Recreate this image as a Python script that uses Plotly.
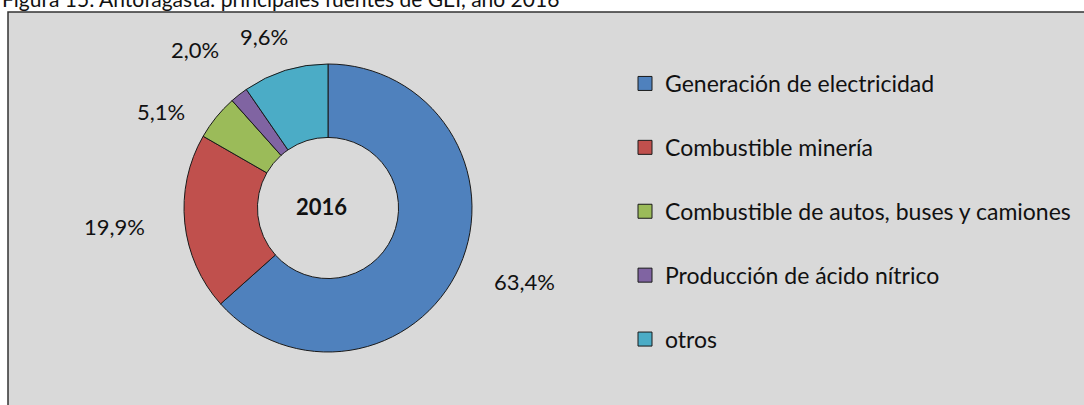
import math
import plotly.graph_objects as go

categories = ["Generación de electricidad", "Combustible minería",
              "Combustible de autos, buses y camiones",
              "Producción de ácido nítrico", "otros"]
values = [63.4, 19.9, 5.1, 2.0, 9.6]
colors = ["#4f81bd", "#c0504d", "#9bbb59", "#8064a2", "#4bacc6"]
center_label = "2016"
title_text = "Figura 15: Antofagasta: principales fuentes de GEI, año 2016"

W, H = 1084, 405
FONT = "Lato"

# pie geometry (pixels)
cx, cy, r = 328, 208, 144
dom_x = [(cx - r) / W, (cx + r) / W]
dom_y = [(H - cy - r) / H, (H - cy + r) / H]

fig = go.Figure()
fig.add_trace(go.Pie(
    labels=categories, values=values, sort=False, direction="clockwise",
    rotation=0, hole=0.49, textinfo="none", hoverinfo="label+percent",
    marker=dict(colors=colors, line=dict(color="#1a1a1a", width=1)),
    domain=dict(x=dom_x, y=dom_y), showlegend=False,
))

# legend via dummy traces (for spacing)
for i, (cat, col) in enumerate(zip(categories, colors)):
    fig.add_trace(go.Scatter(
        x=[None], y=[None], mode="markers", name=cat, legendgroup=f"g{i}",
        marker=dict(symbol="square", size=14, color=col,
                    line=dict(color="#1a1a1a", width=1)),
    ))

# outside labels computed from slice mid-angles (elliptical label ring)
total = sum(values)
cum = 0.0
Rx_lab, Ry_lab = 215, 180
pos = []
for v in values:
    mid = (cum + v / 2) / total * 2 * math.pi
    cum += v
    pos.append([cx + Rx_lab * math.sin(mid), cy - Ry_lab * math.cos(mid)])

# simple de-crowding: spread adjacent labels whose boxes would crowd
MIN_DY, MIN_DX = 62, 55
for i in range(len(pos) - 1):
    a, b = pos[i], pos[i + 1]
    if abs(a[0] - b[0]) < MIN_DX and abs(a[1] - b[1]) < MIN_DY:
        m = (a[1] + b[1]) / 2
        s = 1 if a[1] > b[1] else -1
        a[1] = m + s * MIN_DY / 2
        b[1] = m - s * MIN_DY / 2

annotations = []
for v, (px, py) in zip(values, pos):
    annotations.append(dict(
        x=px / W, y=(H - py) / H, xref="paper", yref="paper",
        text=f"{v:.1f}".replace(".", ",") + "%", showarrow=False,
        font=dict(family=FONT, size=22, color="#111"),
        xanchor="center", yanchor="middle"))

annotations.append(dict(
    x=(cx - 6) / W, y=(H - cy + 1) / H, xref="paper", yref="paper",
    text=f"<b>{center_label}</b>", showarrow=False,
    font=dict(family=FONT, size=22, color="#111"),
    xanchor="center", yanchor="middle"))

annotations.append(dict(
    x=0.0, y=(H - 13) / H, xref="paper", yref="paper",
    text=title_text, showarrow=False,
    font=dict(family=FONT, size=21, color="#111"),
    xanchor="left", yanchor="bottom"))

fig.update_layout(
    width=W, height=H, margin=dict(l=0, r=0, t=0, b=0),
    paper_bgcolor="white", plot_bgcolor="rgba(0,0,0,0)",
    xaxis=dict(visible=False), yaxis=dict(visible=False),
    shapes=[dict(type="rect", xref="paper", yref="paper",
                 x0=8 / W, x1=1.02, y0=-0.02, y1=(H - 12) / H,
                 fillcolor="#d9d9d9", line=dict(color="#333", width=1.5),
                 layer="below")],
    annotations=annotations,
    legend=dict(x=625 / W, y=(H - 62) / H, xanchor="left", yanchor="top",
                bgcolor="rgba(0,0,0,0)", tracegroupgap=31,
                font=dict(family=FONT, size=23, color="#111")),
    showlegend=True,
)

fig.write_html("out.html")
